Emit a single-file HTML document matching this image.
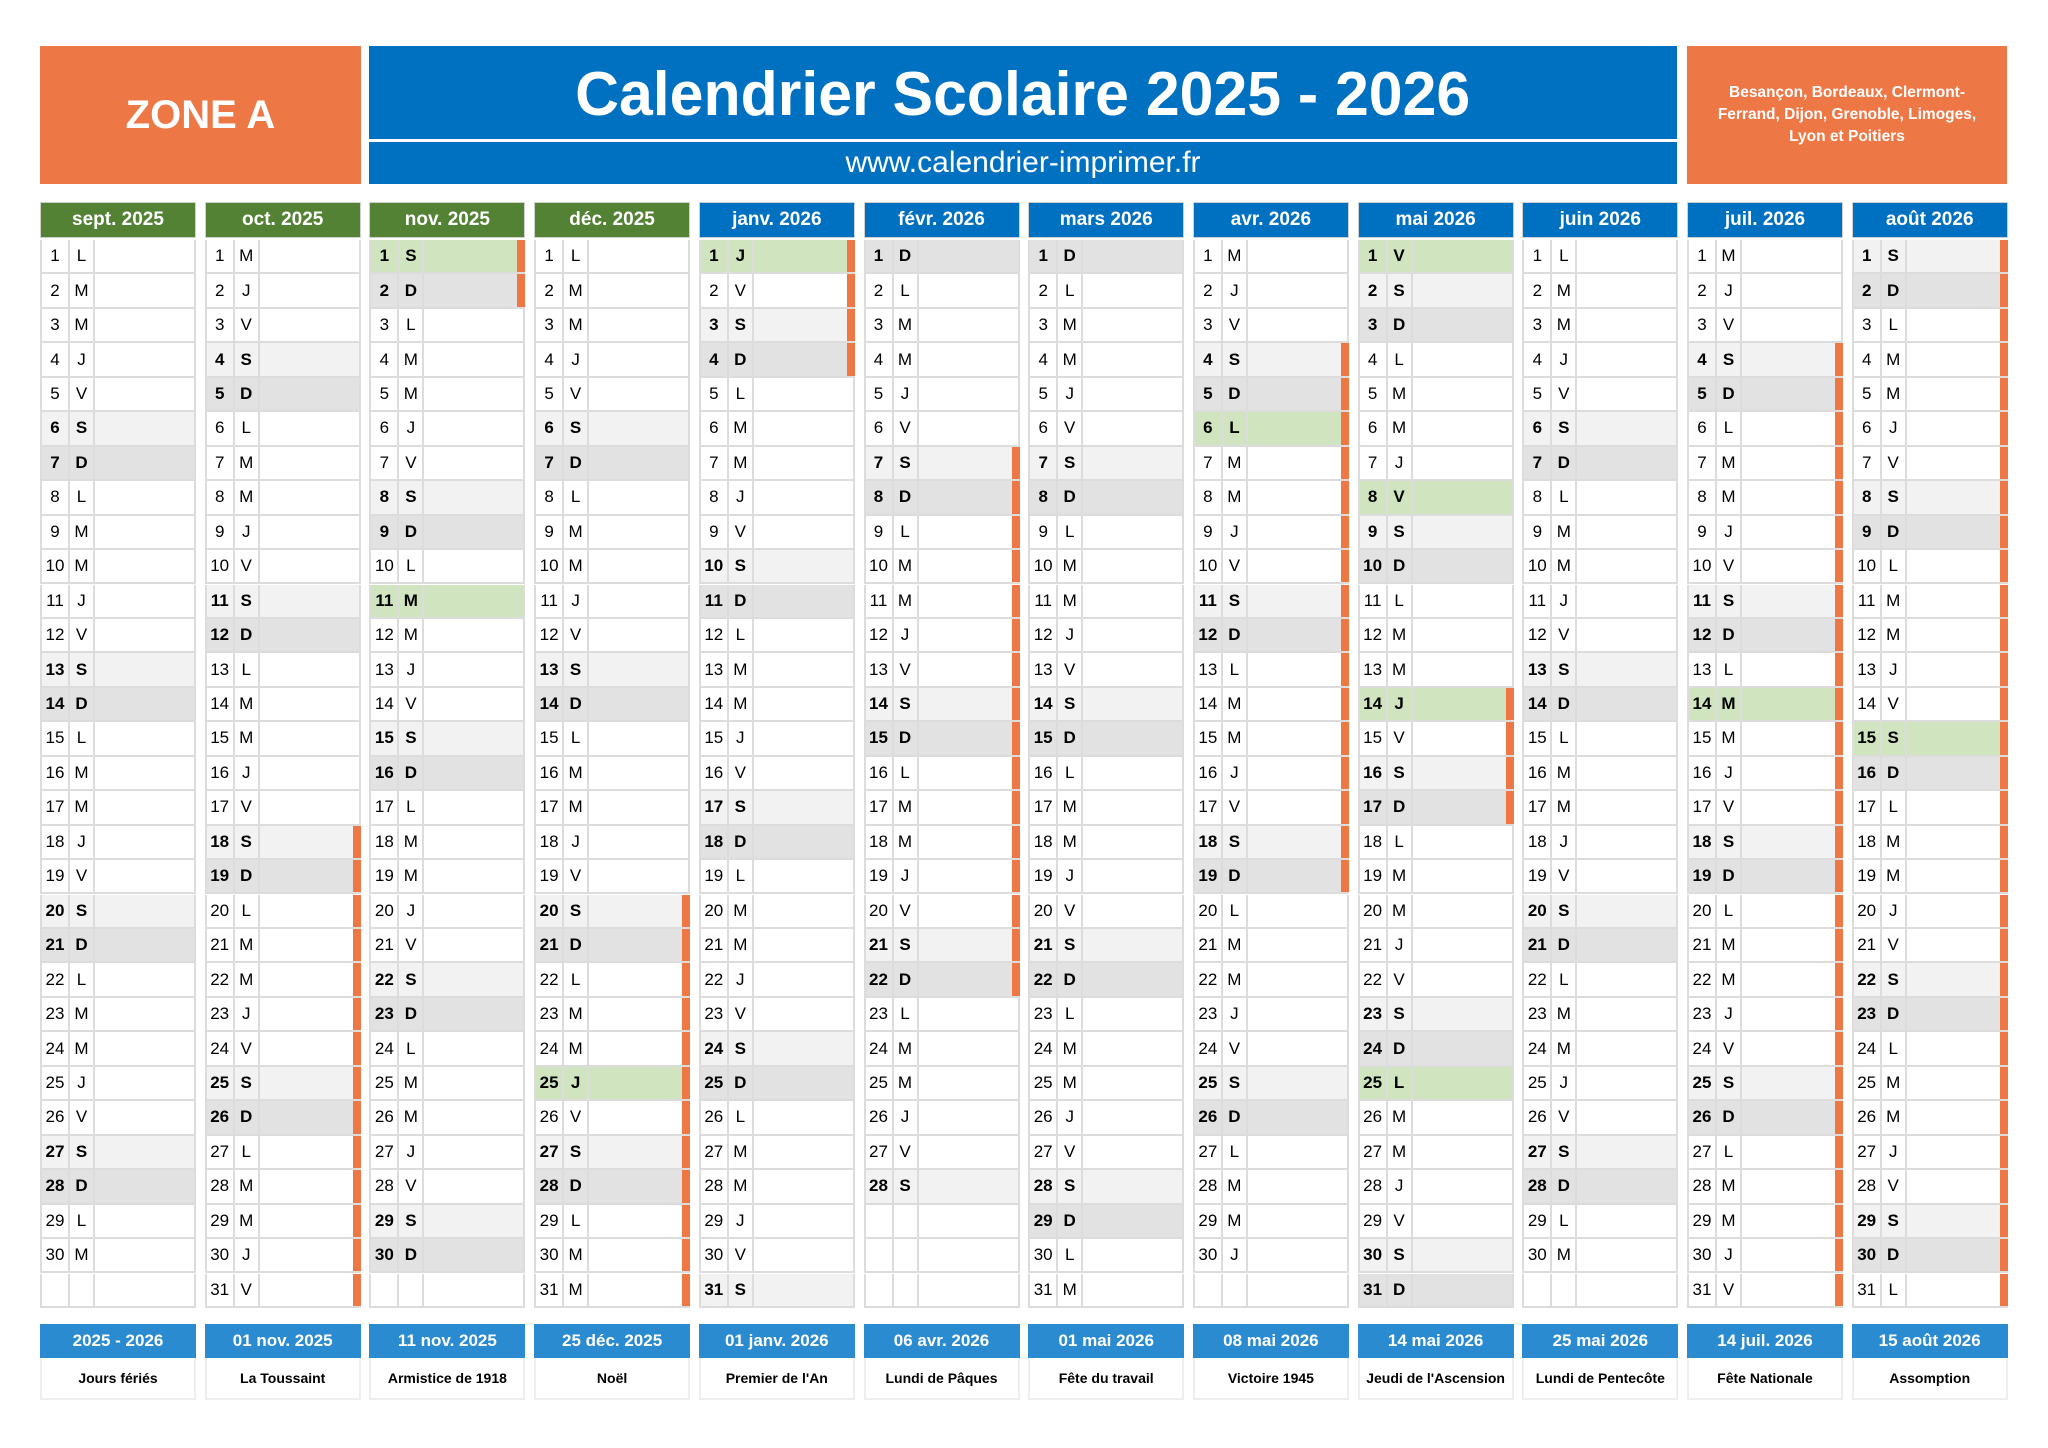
<!DOCTYPE html>
<html><head><meta charset="utf-8">
<style>
*{box-sizing:border-box;margin:0;padding:0}
body{width:2048px;height:1448px;background:#fff;position:relative;overflow:hidden;font-family:"Liberation Sans",Arial,sans-serif}
.abs{position:absolute}
#zone{left:40px;top:46px;width:321px;height:138px;background:#ED7745;color:#fff;font-weight:bold;font-size:40px;display:flex;align-items:center;justify-content:center}
#title{left:369px;top:46px;width:1308px;height:93px;background:#0070C0;color:#fff;font-weight:bold;font-size:62px;display:flex;align-items:center;justify-content:center;padding-top:4px}
#title span{display:inline-block;transform:scaleX(0.98)}
#url{left:369px;top:142px;width:1308px;height:42px;background:#0070C0;color:#fff;font-size:30px;display:flex;align-items:center;justify-content:center}
#cities{left:1687px;top:46px;width:320px;height:138px;background:#ED7745;color:#fff;font-weight:bold;font-size:15.5px;line-height:22px;text-align:center;display:flex;align-items:center;justify-content:center;padding:0 16px}
.mh{height:36px;color:#fff;font-weight:bold;font-size:19px;display:flex;align-items:center;justify-content:center;border:1px solid #d0d0d0}
.row{position:absolute;height:34.4px;display:flex;border-bottom:2px solid #dcdcdc;border-left:2px solid #dcdcdc;border-right:2px solid #dcdcdc;font-size:17px;color:#000}
.row div{display:flex;align-items:center;justify-content:center;height:100%}
.n{width:28px;border-right:2px solid #dcdcdc}
.l{width:25px;border-right:2px solid #dcdcdc}
.r{flex:1}
.bar{position:absolute;right:-2px;top:0;width:8px;height:100%;background:#ED7745}
.fh{height:34px;background:#2A8BD0;color:#fff;font-weight:bold;font-size:17px;display:flex;align-items:center;justify-content:center}
.fl{height:42px;border:2px solid #eee;border-top:none;font-weight:bold;font-size:14px;display:flex;align-items:center;justify-content:center}
</style></head><body>
<div id="zone" class="abs">ZONE A</div>
<div id="title" class="abs"><span>Calendrier Scolaire 2025 - 2026</span></div>
<div id="url" class="abs">www.calendrier-imprimer.fr</div>
<div id="cities" class="abs">Besançon, Bordeaux, Clermont-Ferrand, Dijon, Grenoble, Limoges, Lyon et Poitiers</div>
<div id="cal"></div>
<script>
const months=["sept. 2025","oct. 2025","nov. 2025","déc. 2025","janv. 2026","févr. 2026","mars 2026","avr. 2026","mai 2026","juin 2026","juil. 2026","août 2026"];
const monthYear=[2025,2025,2025,2025,2026,2026,2026,2026,2026,2026,2026,2026];
const monthIndex=[8,9,10,11,0,1,2,3,4,5,6,7];
const vacStart=[0,18,1,20,1,7,0,4,14,0,4,1];
const vacEnd=[0,31,2,31,4,22,0,19,17,0,31,31];
const holidays=[[],[],[1,11],[25],[1],[],[],[6],[1,8,14,25],[],[14],[15]];
const footDates=["2025 - 2026","01 nov. 2025","11 nov. 2025","25 déc. 2025","01 janv. 2026","06 avr. 2026","01 mai 2026","08 mai 2026","14 mai 2026","25 mai 2026","14 juil. 2026","15 août 2026"];
const footNames=["Jours fériés","La Toussaint","Armistice de 1918","Noël","Premier de l'An","Lundi de Pâques","Fête du travail","Victoire 1945","Jeudi de l'Ascension","Lundi de Pentecôte","Fête Nationale","Assomption"];
const letters=["D","L","M","M","J","V","S"];
const cal=document.getElementById('cal');
const X0=40,PITCH=164.7,W=156,TOP=240,RH=34.45;
for(let m=0;m<12;m++){
  const x=X0+m*PITCH;
  const h=document.createElement('div');
  h.className='abs mh';
  
  
  h.style.cssText=`left:${x}px;top:202px;width:${W}px;background:${m<4?'#548235':'#0070C0'}`;
  h.textContent=months[m];cal.appendChild(h);
  const nd=new Date(monthYear[m],monthIndex[m]+1,0).getDate();
  for(let d=1;d<=31;d++){
    const r=document.createElement('div');
    r.className='row';
    
    
    r.style.left=x+'px';r.style.top=(TOP+(d-1)*RH)+'px';r.style.width=W+'px';
    let bg='#fff',bold=false,n='',l='';
    if(d<=nd){
      const wd=new Date(monthYear[m],monthIndex[m],d).getDay();
      n=d;l=letters[wd];
      if(wd==6){bg='#F2F2F2';bold=true}
      if(wd==0){bg='#E2E2E2';bold=true}
      if(holidays[m].includes(d)){bg='#D0E4BF';bold=true}
    }
    r.style.background=bg;if(bold)r.style.fontWeight='bold';
    r.innerHTML=`<div class="n">${n}</div><div class="l">${l}</div><div class="r"></div>`;
    if(d<=nd&&vacStart[m]&&d>=vacStart[m]&&d<=vacEnd[m]){
      const b=document.createElement('span');b.className='bar';
      
      
      r.appendChild(b);
    }
    cal.appendChild(r);
  }
  const fh=document.createElement('div');
  fh.className='abs fh';
  
  
  fh.style.cssText=`left:${x}px;top:1324px;width:${W}px`;
  fh.textContent=footDates[m];cal.appendChild(fh);
  const fl=document.createElement('div');
  fl.className='abs fl';
  
  
  fl.style.cssText=`left:${x}px;top:1358px;width:${W}px`;
  fl.textContent=footNames[m];cal.appendChild(fl);
}
</script>
</body></html>
